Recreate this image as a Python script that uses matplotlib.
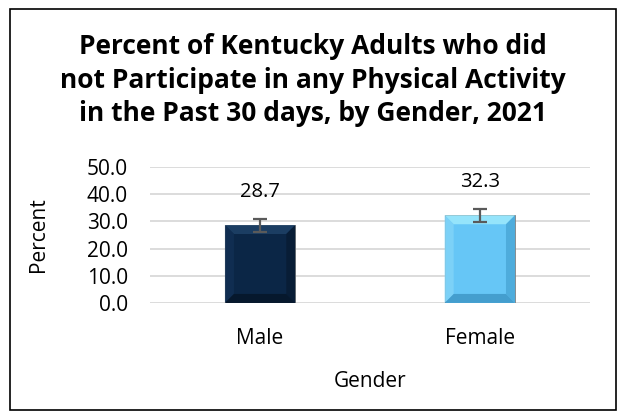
import matplotlib.pyplot as plt
from matplotlib.patches import Rectangle, Polygon

genders = ["Male", "Female"]
percents = [28.7, 32.3]
ci_low = [26.1, 29.8]
ci_high = [30.9, 34.6]
bar_colors = ["#0b2646", "#66c6f6"]
# bevel shades: top, left, right, bottom
bevel_colors = [
    ["#1e4268", "#112f53", "#081c34", "#061629"],
    ["#9eeafc", "#80d4f8", "#4aa8d8", "#3f98c8"],
]

plt.rcParams["font.family"] = ["Open Sans", "DejaVu Sans"]

fig = plt.figure(figsize=(6.26, 4.19), dpi=100)
ax = fig.add_axes([0.24, 0.277, 0.702, 0.324])

x = list(range(len(genders)))
bars = ax.bar(x, percents, width=0.32, color=bar_colors,
              edgecolor="#7f7f7f", linewidth=0.6, zorder=3)

ax.set_xlim(-0.5, 1.5)
ax.set_ylim(0, 50)

# bevel look, drawn over each bar in pixel units
bw = 9
for bar, shades in zip(bars, bevel_colors):
    x0, y0 = ax.transData.transform((bar.get_x(), 0))
    x1, y1 = ax.transData.transform((bar.get_x() + bar.get_width(), bar.get_height()))
    corners = {
        "top": [(x0, y1), (x1, y1), (x1 - bw, y1 - bw), (x0 + bw, y1 - bw)],
        "left": [(x0, y0), (x0, y1), (x0 + bw, y1 - bw), (x0 + bw, y0 + bw)],
        "right": [(x1, y0), (x1, y1), (x1 - bw, y1 - bw), (x1 - bw, y0 + bw)],
        "bottom": [(x0, y0), (x1, y0), (x1 - bw, y0 + bw), (x0 + bw, y0 + bw)],
    }
    for side, c in zip(["top", "left", "right", "bottom"], shades):
        pts = ax.transData.inverted().transform(corners[side])
        ax.add_patch(Polygon(pts, closed=True, facecolor=c, edgecolor="none",
                             zorder=3.5, alpha=0.85))

yerr = [[p - lo for p, lo in zip(percents, ci_low)],
        [hi - p for p, hi in zip(percents, ci_high)]]
ax.errorbar(x, percents, yerr=yerr, fmt="none", ecolor="#5a5a5a",
            elinewidth=1.6, capsize=5, capthick=1.6, zorder=4)

for xi, p, hi in zip(x, percents, ci_high):
    ax.annotate(f"{p:.1f}", (xi, hi), xytext=(0, 12), textcoords="offset points",
                ha="center", va="bottom", fontsize=14.5, color="#000000")

ax.set_yticks([0, 10, 20, 30, 40, 50])
ax.set_yticklabels([f"{v:.1f}" for v in [0, 10, 20, 30, 40, 50]])
ax.set_xticks(x)
ax.set_xticklabels(genders)
ax.tick_params(axis="both", length=0, labelsize=15, colors="#000000")
ax.tick_params(axis="y", pad=16)
ax.tick_params(axis="x", pad=18)
ax.grid(axis="y", color="#d9d9d9", linewidth=1.3, zorder=0)
for s in ax.spines.values():
    s.set_visible(False)

ax.set_xlabel("Gender", fontsize=15)
ax.set_ylabel("Percent", fontsize=15)
ax.xaxis.set_label_coords(0.5, -0.5)
ax.yaxis.set_label_coords(-0.23, 0.5)

fig.text(0.5, 0.809,
         "Percent of Kentucky Adults who did\nnot Participate in any Physical Activity\nin the Past 30 days, by Gender, 2021",
         ha="center", va="center", fontsize=19, fontweight="bold",
         linespacing=1.3)

fig.patches.append(Rectangle((0.016, 0.022), 0.968, 0.956, transform=fig.transFigure,
                             fill=False, edgecolor="black", linewidth=1.2))

fig.savefig("out.png", dpi=100, facecolor="white")
